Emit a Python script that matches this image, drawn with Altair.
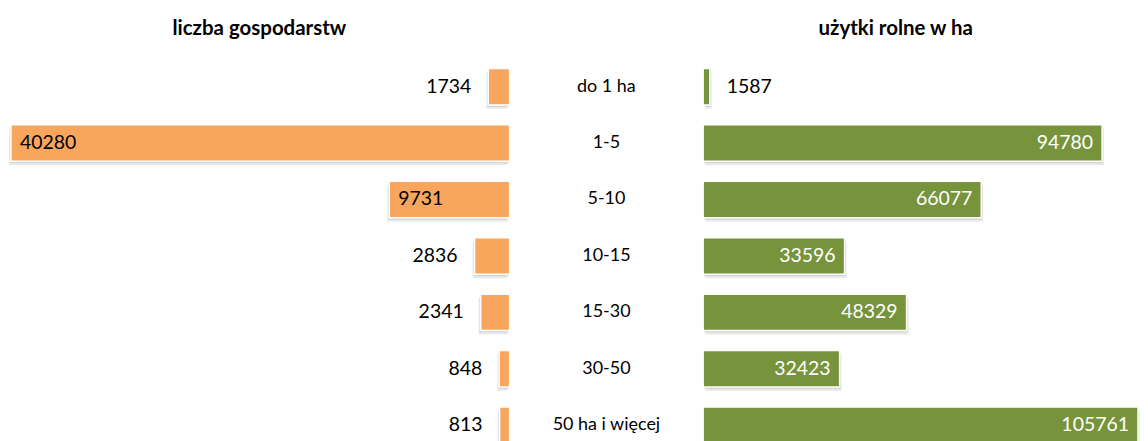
import altair as alt
import pandas as pd

categories = ["do 1 ha", "1-5", "5-10", "10-15", "15-30", "30-50", "50 ha i więcej"]
farms = [1734, 40280, 9731, 2836, 2341, 848, 813]
land = [1587, 94780, 66077, 33596, 48329, 32423, 105761]

left_title = "liczba gospodarstw"
right_title = "użytki rolne w ha"

df = pd.DataFrame({"cat": categories, "farms": farms, "land": land})

FONT = "Lato"
ORANGE = "#F8A65E"
GREEN = "#77933C"
H = 396
VAL_SIZE = 19.5

yenc = alt.Y("cat:N", sort=categories, axis=None,
             scale=alt.Scale(paddingInner=0.354, paddingOuter=0.177))

base = alt.Chart(df)


def title(t, dx=0):
    return alt.TitleParams(t, font=FONT, fontSize=20.5, fontWeight="bold", color="black",
                           anchor="middle", baseline="alphabetic", offset=3, dx=dx)


# ---------- left panel: liczba gospodarstw ----------
lx = alt.X("farms:Q", axis=None, scale=alt.Scale(domain=[0, 40441], reverse=True))
l_sh1 = base.mark_bar(color="#000", opacity=0.10, xOffset=-1, yOffset=2).encode(x=lx, y=yenc)
l_sh2 = base.mark_bar(color="#000", opacity=0.08, xOffset=-2, yOffset=4).encode(x=lx, y=yenc)
l_bar = base.mark_bar(color=ORANGE, stroke="white", strokeWidth=1.5).encode(x=lx, y=yenc)
l_in = base.transform_filter("datum.farms > 5000").mark_text(
    align="left", baseline="middle", dx=9, font=FONT, fontSize=VAL_SIZE, color="black"
).encode(x=lx, y=yenc, text=alt.Text("farms:Q", format="d"))
l_out = base.transform_filter("datum.farms <= 5000").mark_text(
    align="right", baseline="middle", dx=-17, font=FONT, fontSize=VAL_SIZE, color="black"
).encode(x=lx, y=yenc, text=alt.Text("farms:Q", format="d"))
left = alt.layer(l_sh2, l_sh1, l_bar, l_in, l_out).properties(
    width=502, height=H, title=title(left_title))

# ---------- middle panel: categories ----------
mid = base.mark_text(baseline="middle", align="center", font=FONT, fontSize=18, color="black").encode(
    y=yenc, text="cat:N").properties(width=194, height=H)

# ---------- right panel: użytki rolne ----------
rx = alt.X("land:Q", axis=None, scale=alt.Scale(domain=[0, 103310], clamp=True))
r_sh1 = base.mark_bar(color="#000", opacity=0.10, xOffset=1, yOffset=2).encode(x=rx, y=yenc)
r_sh2 = base.mark_bar(color="#000", opacity=0.08, xOffset=2, yOffset=4).encode(x=rx, y=yenc)
r_bar = base.mark_bar(color=GREEN, stroke="white", strokeWidth=1.5).encode(x=rx, y=yenc)
r_in = base.transform_filter("datum.land > 5000").mark_text(
    align="right", baseline="middle", dx=-9, font=FONT, fontSize=VAL_SIZE, color="white"
).encode(x=rx, y=yenc, text=alt.Text("land:Q", format="d"))
r_out = base.transform_filter("datum.land <= 5000").mark_text(
    align="left", baseline="middle", dx=17, font=FONT, fontSize=VAL_SIZE, color="black"
).encode(x=rx, y=yenc, text=alt.Text("land:Q", format="d"))
right = alt.layer(r_sh2, r_sh1, r_bar, r_in, r_out).properties(
    width=436, height=H, title=title(right_title, dx=-25))

chart = alt.hconcat(left, mid, right, spacing=0, bounds="flush").properties(
    padding={"left": 0, "right": 0, "top": 10, "bottom": 0}
).configure_view(strokeWidth=0).configure_concat(spacing=0)

chart.save("out.html", embed_options={"renderer": "svg", "actions": False})
